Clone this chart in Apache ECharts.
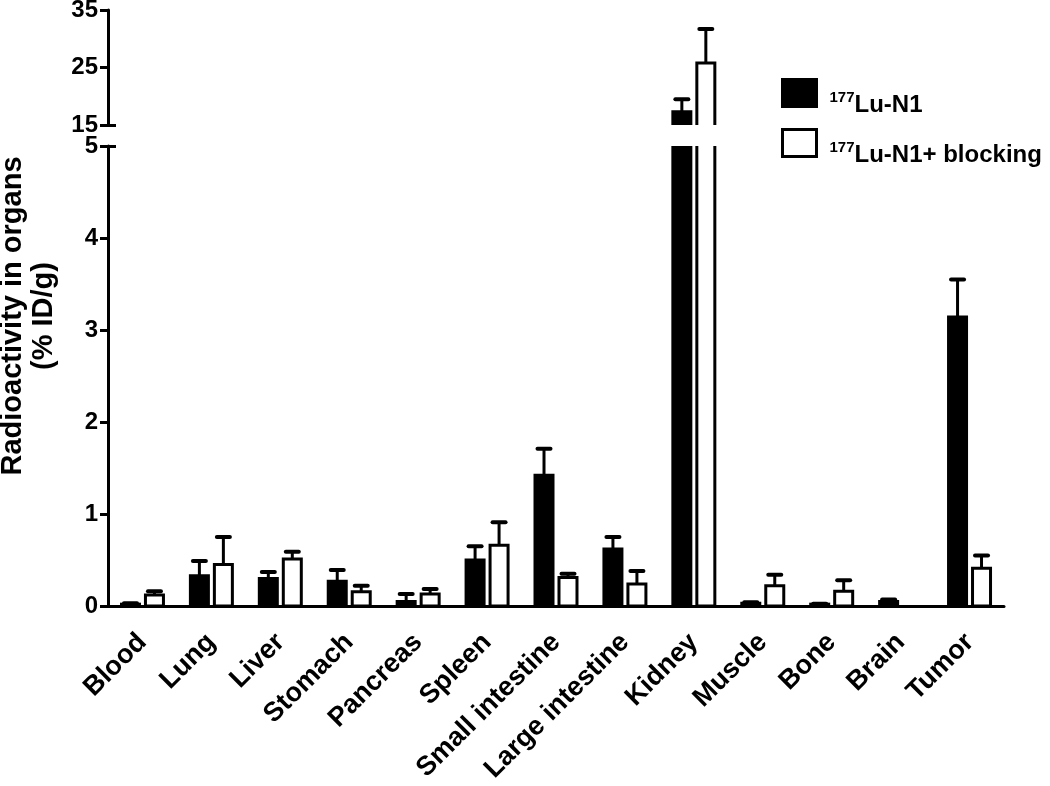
<!DOCTYPE html>
<html><head><meta charset="utf-8">
<script src="https://cdn.jsdelivr.net/npm/echarts@6/dist/echarts.min.js"></script>
<style>html,body{margin:0;padding:0;background:#fff}#c{width:1050px;height:786px}</style>
</head><body><div id="c"></div>
<script>
const categories = ['Blood','Lung','Liver','Stomach','Pancreas','Spleen','Small intestine','Large intestine','Kidney','Muscle','Bone','Brain','Tumor'];
const n1Mean  = [0.02, 0.33, 0.30, 0.27, 0.05, 0.50, 1.42, 0.62, 17.3, 0.03, 0.02, 0.05, 3.14];
const n1Err   = [0.01, 0.16, 0.07, 0.12, 0.08, 0.15, 0.29, 0.13, 2.2, 0.01, 0.005, 0.02, 0.41];
const blkMean = [0.12, 0.45, 0.51, 0.155, 0.13, 0.66, 0.31, 0.24, 25.8, 0.22, 0.16, null, 0.41];
const blkErr  = [0.04, 0.30, 0.08, 0.065, 0.055, 0.25, 0.04, 0.14, 5.9, 0.12, 0.12, null, 0.14];
const upperTicks = [15, 25, 35];
const seriesNames = ['Lu-N1', 'Lu-N1+ blocking'];
const isotope = '177';
const yTitle = 'Radioactivity in organs\n(% ID/g)';

const FONT = '"Liberation Sans", Arial, sans-serif';

function makeRender(side, fill) {
  return function (params, api) {
    const idx = api.value(0), mean = api.value(1), err = api.value(2);
    if (mean == null || isNaN(mean)) return;
    const band = api.size([1, 0])[0];
    const base = api.coord([idx, 0]);
    const cx = base[0] + side * band * 0.174;
    const y0 = base[1];
    const y1 = api.coord([idx, mean])[1];
    const w = 18;
    const children = [
      {type: 'rect', shape: {x: cx - w / 2, y: y1, width: w, height: y0 - y1},
       style: {fill: fill, stroke: '#000', lineWidth: 3}}
    ];
    if (err > 0) {
      const y2 = api.coord([idx, mean + err])[1];
      children.push({type: 'line', shape: {x1: cx, y1: y1, x2: cx, y2: y2}, style: {stroke: '#000', lineWidth: 3}});
      children.push({type: 'line', shape: {x1: cx - 6.5, y1: y2, x2: cx + 6.5, y2: y2}, style: {stroke: '#000', lineWidth: 4, lineCap: 'round'}});
    }
    return {type: 'group', children: children};
  };
}

const n1Data = n1Mean.map((v, i) => [i, v, n1Err[i]]);
const blkData = blkMean.map((v, i) => [i, v, blkErr[i]]);

const tickLabelStyle = {color: '#000', fontFamily: FONT, fontWeight: 'bold', fontSize: 24};

function buildSeries(xi, yi) {
  return [
    {name: seriesNames[0], type: 'custom', xAxisIndex: xi, yAxisIndex: yi, clip: true,
     itemStyle: {color: '#000'}, renderItem: makeRender(-1, '#000'), encode: {x: 0, y: 1}, data: n1Data},
    {name: seriesNames[1], type: 'custom', xAxisIndex: xi, yAxisIndex: yi, clip: true,
     itemStyle: {color: '#fff', borderColor: '#000', borderWidth: 3}, renderItem: makeRender(1, '#fff'), encode: {x: 0, y: 1}, data: blkData}
  ];
}

const option = {
  animation: false,
  backgroundColor: '#fff',
  grid: [
    {left: 108, right: 46, top: 10, height: 115, outerBoundsMode: 'none', containLabel: false},
    {left: 108, right: 46, top: 146, height: 460, outerBoundsMode: 'none', containLabel: false}
  ],
  graphic: [
    {type: 'text', x: 28, y: 316, rotation: Math.PI / 2, silent: true,
     style: {text: yTitle, fill: '#000', font: 'bold 29px ' + FONT, lineHeight: 31,
             align: 'center', verticalAlign: 'middle'}}
  ],
  legend: {
    orient: 'vertical', left: 776, top: 64, itemWidth: 34, itemHeight: 27, itemGap: 2,
    data: [
      {name: seriesNames[0], icon: 'rect', itemStyle: {color: '#000', borderColor: '#000', borderWidth: 3}},
      {name: seriesNames[1], icon: 'rect', itemStyle: {color: '#fff', borderColor: '#000', borderWidth: 3}}
    ],
    formatter: function (name) { return '{s|' + isotope + '}{t|' + name + '}'; },
    textStyle: {
      color: '#000', fontFamily: FONT, fontWeight: 'bold',
      rich: {
        s: {fontSize: 15, lineHeight: 17, fontWeight: 'bold', fontFamily: FONT, color: '#000', padding: [10, 0, 0, 8]},
        t: {fontSize: 24, lineHeight: 27, fontWeight: 'bold', fontFamily: FONT, color: '#000', padding: [24, 0, 0, 0]}
      }
    }
  },
  xAxis: [
    {gridIndex: 0, type: 'category', data: categories, show: false},
    {gridIndex: 1, type: 'category', data: categories,
     axisLine: {lineStyle: {color: '#000', width: 3}},
     axisTick: {alignWithLabel: true, length: 8, lineStyle: {color: '#000', width: 3}},
     axisLabel: {rotate: 45, interval: 0, margin: 32, color: '#000', fontFamily: FONT, fontWeight: 'bold', fontSize: 27}}
  ],
  yAxis: [
    {gridIndex: 0, type: 'value', min: 15, max: 35, position: 'left', splitLine: {show: false},
     axisLine: {show: true, lineStyle: {color: '#000', width: 3}},
     axisTick: {show: true, length: 8, customValues: upperTicks, lineStyle: {color: '#000', width: 3}},
     axisLabel: Object.assign({customValues: upperTicks, margin: 10}, tickLabelStyle)},
    {gridIndex: 0, type: 'value', min: 15, max: 35, position: 'left', offset: 0, splitLine: {show: false},
     axisLine: {show: false},
     axisTick: {show: true, inside: true, length: 8, customValues: [15], lineStyle: {color: '#000', width: 3}},
     axisLabel: {show: false}},
    {gridIndex: 1, type: 'value', min: 0, max: 5, interval: 1, position: 'left', splitLine: {show: false},
     axisLine: {show: true, lineStyle: {color: '#000', width: 3}},
     axisTick: {show: true, length: 8, lineStyle: {color: '#000', width: 3}},
     axisLabel: Object.assign({margin: 10}, tickLabelStyle)},
    {gridIndex: 1, type: 'value', min: 0, max: 5, position: 'left', offset: 0, splitLine: {show: false},
     axisLine: {show: false},
     axisTick: {show: true, inside: true, length: 8, customValues: [5], lineStyle: {color: '#000', width: 3}},
     axisLabel: {show: false}}
  ],
  series: buildSeries(0, 0).concat(buildSeries(1, 2))
};

echarts.init(document.getElementById('c'), null, {renderer: 'canvas'}).setOption(option);
</script>
</body></html>
